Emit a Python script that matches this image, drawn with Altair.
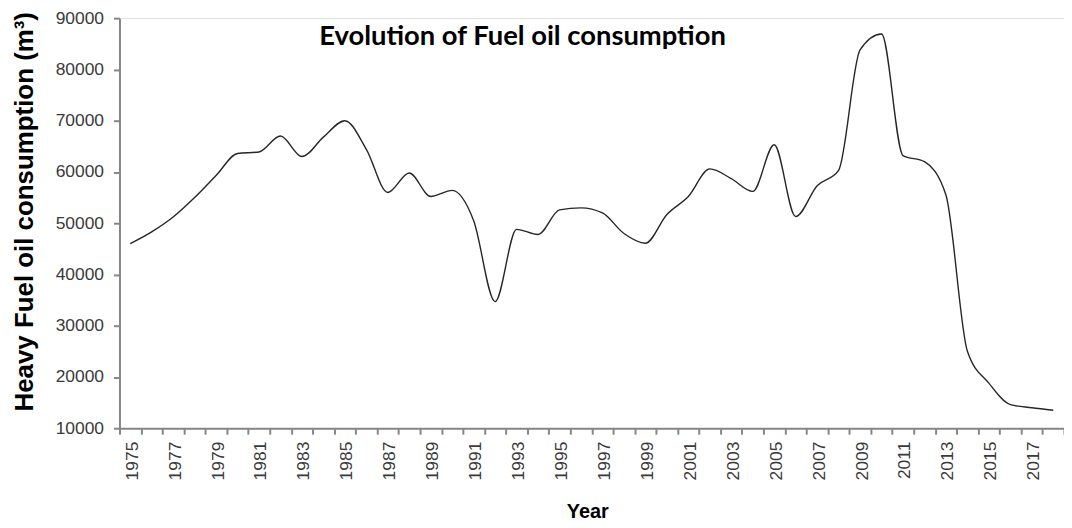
import altair as alt
import pandas as pd

years = list(range(1975, 2019))
consumption = [
    46000, 48300, 51200, 55000, 59300, 63600, 63900, 67000, 63000, 66800,
    70000, 64400, 56000, 59800, 55200, 56400, 50500, 34700, 48800, 47800,
    52600, 53000, 52000, 48000, 46100, 51700, 55200, 60600, 58700, 56200,
    65300, 51300, 57300, 60300, 83800, 86900, 63200, 62000, 55500, 25000,
    18800, 14600, 14000, 13500,
]
y_ticks = [10000, 20000, 30000, 40000, 50000, 60000, 70000, 80000, 90000]
chart_title = ["Evolution of Fuel oil consumption"]

df = pd.DataFrame({"year": years, "value": consumption})
title_df = pd.DataFrame({"label": chart_title})

axis_color = "#868686"
label_color = "#3a3a3a"
label_font = "Liberation Sans"

line = alt.Chart(df).mark_line(
    interpolate="monotone", color="#262626", strokeWidth=1.4
).encode(
    x=alt.X(
        "year:O",
        bandPosition=0.5,
        scale=alt.Scale(type="band", paddingInner=0, paddingOuter=0),
        axis=alt.Axis(
            title="Year",
            tickBand="extent",
            labelAngle=-90,
            labelExpr="datum.value % 2 == 1 ? datum.label : ''",
            labelOverlap=False,
            labelFont=label_font,
            labelFontSize=17.5,
            labelColor=label_color,
            labelPadding=7,
            labelOffset=2,
            tickSize=6,
            tickColor=axis_color,
            tickWidth=2,
            domainColor=axis_color,
            domainWidth=2,
            grid=False,
            titleFont="Liberation Sans",
            titleFontSize=20,
            titleFontWeight="bold",
            titleColor="black",
            titleX=470,
            titleY=90,
            titleAlign="center",
            titleBaseline="alphabetic",
        ),
    ),
    y=alt.Y(
        "value:Q",
        scale=alt.Scale(domain=[10000, 90000], nice=False, zero=False),
        axis=alt.Axis(
            values=y_ticks,
            format="d",
            title="Heavy Fuel oil consumption (m³)",
            labelFont=label_font,
            labelFontSize=17.5,
            labelColor=label_color,
            labelPadding=10,
            tickSize=6,
            tickColor=axis_color,
            tickWidth=2,
            domainColor=axis_color,
            domainWidth=2,
            grid=False,
            titleFont="Liberation Sans",
            titleFontSize=26,
            titleFontWeight="bold",
            titleColor="black",
            titleAngle=-90,
            titleX=-87,
            titleY=194,
            titleAlign="center",
            titleBaseline="alphabetic",
        ),
    ),
)

title_text = alt.Chart(title_df).mark_text(
    font="Lato",
    fontSize=27.5,
    fontWeight="bold",
    color="black",
    align="center",
    baseline="alphabetic",
).encode(
    text="label:N",
    x=alt.value(405),
    y=alt.value(27),
)

chart = alt.layer(line, title_text).properties(
    width=949,
    height=412,
    autosize=alt.AutoSizeParams(type="none"),
    padding={"left": 112, "top": 9, "right": 0, "bottom": 95},
).configure_view(stroke=None).configure(background="white")

chart.save("out.html", embed_options={"renderer": "svg", "actions": False})
